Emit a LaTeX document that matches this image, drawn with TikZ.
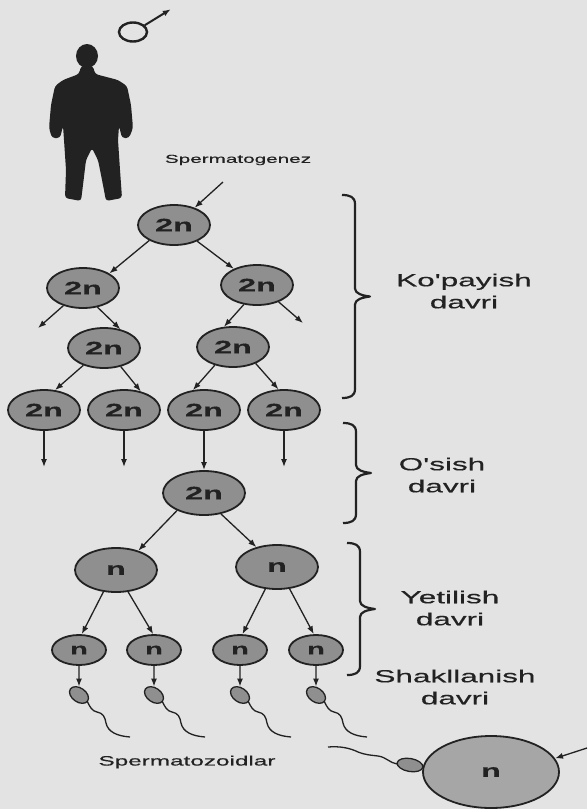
\documentclass[tikz,border=0pt]{standalone}
\usepackage{fontspec}
\newfontfamily\widesans[FakeStretch=1.8,FakeBold=0.4]{Liberation Sans}
\usetikzlibrary{shapes.geometric,arrows.meta}

\definecolor{paper}{HTML}{E3E3E3}
\definecolor{cellgray}{HTML}{8F8F8F}
\definecolor{egggray}{HTML}{A6A6A6}
\definecolor{ink}{HTML}{222222}

\tikzset{
  cell/.style={ellipse,draw=ink,line width=1.8pt,fill=cellgray,inner sep=0pt,
    minimum width=72pt,minimum height=40pt,text=ink,
    font=\widesans\bfseries\fontsize{18}{18}\selectfont},
  bigcell/.style={cell,minimum width=82pt,minimum height=44pt},
  smallcell/.style={cell,minimum width=54pt,minimum height=30pt,
    font=\widesans\bfseries\fontsize{16}{16}\selectfont},
  head/.style={ellipse,draw=ink,line width=1.3pt,fill=cellgray,inner sep=0pt,
    minimum width=21pt,minimum height=14pt},
  arr/.style={-{Latex[length=8pt,width=6pt]},line width=1.3pt,draw=ink},
  tail/.style={line width=1.3pt,draw=ink},
  period/.style={line width=2.2pt,draw=ink,line join=round},
  stagetext/.style={font=\widesans\fontsize{17.5}{22}\selectfont,text=ink,align=center},
}

\begin{document}
\begin{tikzpicture}[x=1pt,y=-1pt]
\fill[paper] (0,0) rectangle (587,809);
\useasboundingbox (0,0) rectangle (587,809);

% male sign
\node[ellipse,draw=ink,line width=2.4pt,minimum width=28pt,minimum height=19pt,inner sep=0pt] (mars) at (133,32) {};
\draw[ink,line width=2pt,-{Latex[length=8pt,width=6pt]}] (mars.30) -- ++(26,-16);

% man
\fill[ink] (87,56) ellipse [x radius=11, y radius=12];
\fill[ink,rounded corners=3pt] (81,66) -- (93,66) -- (95,74) -- (118,80) -- (127,86) -- (131,105)
  -- (133,128) -- (129,138) -- (122,138) -- (119,126) -- (118,140) -- (120,170) -- (122,198)
  -- (106,201) -- (103,185) -- (98,160) -- (92,148) -- (86,160) -- (83,185) -- (81,201)
  -- (65,198) -- (66,170) -- (64,140) -- (63,126) -- (60,138) -- (52,138) -- (49,128)
  -- (51,105) -- (55,86) -- (63,80) -- (79,74) -- cycle;

\node[font=\widesans\fontsize{11.5}{12}\selectfont,text=ink] (genesis) at (238,160) {Spermatogenez};
\coordinate (entry) at (223,182);

% ko'payish
\node[cell] (top) at (174,225) {2n};
\node[cell] (l2a) at (83,288) {2n};
\node[cell] (l2b) at (257,285) {2n};
\node[cell] (l3a) at (104,348) {2n};
\node[cell] (l3b) at (233,347) {2n};
\foreach \x/\n in {44/a,124/b,204/c,284/d}
  \node[cell] (l4\n) at (\x,410) {2n};

\coordinate (lostl) at (38,328);
\coordinate (lostr) at (303,323);
\draw[arr] (entry) -- (top.40);
\draw[arr] (top.-148) -- (l2a.29);
\draw[arr] (top.-35) -- (l2b.145);
\draw[arr] (l2a.-138) -- (lostl);
\draw[arr] (l2a.-53) -- (l3a.49);
\draw[arr] (l2b.-124) -- (l3b.114);
\draw[arr] (l2b.-38) -- (lostr);
\draw[arr] (l3a.-140) -- (l4a.61);
\draw[arr] (l3a.-48) -- (l4b.48);
\draw[arr] (l3b.-135) -- (l4c.119);
\draw[arr] (l3b.-36) -- (l4d.105);

% o'sish
\node[bigcell] (growth) at (204,493) {2n};
\coordinate (downa) at (44,467);
\coordinate (downb) at (124,467);
\coordinate (downd) at (284,467);
\draw[arr] (l4a) -- (downa);
\draw[arr] (l4b) -- (downb);
\draw[arr] (l4d) -- (downd);
\draw[arr] (l4c) -- (growth);

% yetilish
\node[bigcell] (meioa) at (116,570) {n};
\node[bigcell] (meiob) at (277,567) {n};
\foreach \x/\n in {79/a,154/b,240/c,316/d}
  \node[smallcell] (sp\n) at (\x,650) {n};
\draw[arr] (growth.-147) -- (meioa.41);
\draw[arr] (growth.-51) -- (meiob.136);
\draw[arr] (meioa.-120) -- (spa.80);
\draw[arr] (meioa.-61) -- (spb.93);
\draw[arr] (meiob.-118) -- (spc.81);
\draw[arr] (meiob.-60) -- (spd.98);

% shakllanish
\foreach \x/\n in {79/a,154/b,240/c,316/d}{
  \node[head,rotate=-35] (hd\n) at (\x,695) {};
  \draw[arr] (sp\n) -- (hd\n);
  \begin{scope}[shift={(\x,695)}]
    \draw[tail] (8,6) .. controls (11,12) and (13,16) .. (18,17)
      .. controls (24,18) and (26,22) .. (27,28)
      .. controls (29,37) and (38,41) .. (51,42);
  \end{scope}
}
\node[font=\widesans\fontsize{13.5}{14}\selectfont,text=ink] (sperms) at (187,762) {Spermatozoidlar};

% egg
\node[ellipse,draw=ink,line width=1.8pt,fill=egggray,minimum width=136pt,minimum height=72pt,
  inner sep=0pt,text=ink,font=\widesans\bfseries\fontsize{18}{18}\selectfont] (egg) at (491,772) {n};
\node[head,minimum width=26pt,minimum height=13pt,rotate=-10] (eghead) at (410,765) {};
\begin{scope}[shift={(410,765)}]
  \draw[tail] (-13,-1) .. controls (-20,-2) and (-24,-8) .. (-32,-9)
    .. controls (-40,-10) and (-44,-10) .. (-52,-13)
    .. controls (-60,-17) and (-70,-19) .. (-82,-18);
\end{scope}
\coordinate (inflow) at (587,748);
\draw[arr] (inflow) -- (egg.12);

% davrlar
\foreach \bx/\ya/\yb in {342/195/398, 343/423/523, 347/543/675}{
  \pgfmathsetmacro\ym{(\ya+\yb)/2}
  \draw[period] (\bx,\ya) .. controls (\bx+8,\ya) and (\bx+13,\ya+2) .. (\bx+13,\ya+9)
    -- (\bx+13,\ym-8) .. controls (\bx+13,\ym-3) and (\bx+20,\ym-1) .. (\bx+28,\ym)
    .. controls (\bx+20,\ym+1) and (\bx+13,\ym+3) .. (\bx+13,\ym+8)
    -- (\bx+13,\yb-9) .. controls (\bx+13,\yb-2) and (\bx+8,\yb) .. (\bx,\yb);
}
\node[stagetext] (kopayish) at (464,291) {Ko'payish\\davri};
\node[stagetext] (osish) at (442,475) {O'sish\\davri};
\node[stagetext] (yetilish) at (450,608) {Yetilish\\davri};
\node[stagetext] (shakl) at (455,687) {Shakllanish\\davri};
\end{tikzpicture}
\end{document}
